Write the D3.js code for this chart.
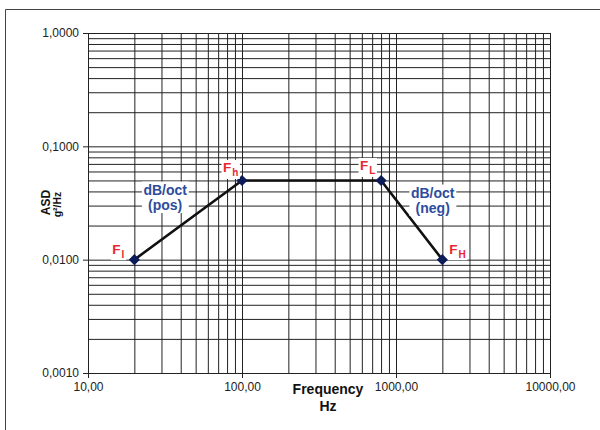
<!DOCTYPE html>
<html><head><meta charset="utf-8">
<script src="https://cdn.jsdelivr.net/npm/d3@7"></script>
<style>body{margin:0;background:#fff}svg{display:block;font-family:"Liberation Sans",Arial,sans-serif}</style>
</head><body><svg id="c" width="600" height="430"></svg>
<script>
const freq = [20, 100, 800, 2000];
const asd = [0.01, 0.05, 0.05, 0.01];
const pointMain = ["F", "F", "F", "F"];
const pointSub = ["l", "h", "L", "H"];
const slopeTop = ["dB/oct", "dB/oct"];
const slopeBottom = ["(pos)", "(neg)"];
const xTickValues = [10, 100, 1000, 10000];
const xTickLabels = ["10,00", "100,00", "1000,00", "10000,00"];
const yTickValues = [0.001, 0.01, 0.1, 1];
const yTickLabels = ["0,0010", "0,0100", "0,1000", "1,0000"];
const xTitle = ["Frequency", "Hz"];
const yTitle = ["ASD", "g²/Hz"];

const svg = d3.select("#c");
const L = 88, R = 550, T = 33, B = 373;
const x = d3.scaleLog().domain([10, 10000]).range([L, R]);
const y = d3.scaleLog().domain([0.001, 1]).range([B, T]);

// outer frame (top + left edges)
svg.append("path").attr("d", "M5.5,430V9.5H600").attr("fill", "none").attr("stroke", "#444").attr("stroke-width", 1);

// grid
const gx = svg.append("g").attr("transform", `translate(0,${B})`)
  .call(d3.axisBottom(x).tickValues(x.ticks()).tickSize(-(B - T)).tickFormat(""));
const gy = svg.append("g").attr("transform", `translate(${L},0)`)
  .call(d3.axisLeft(y).tickValues(y.ticks()).tickSize(-(R - L)).tickFormat(""));
[gx, gy].forEach(g => { g.select(".domain").remove(); g.selectAll("line").attr("stroke", "#222").attr("stroke-width", 1); });

// labelled axes
const ax = svg.append("g").attr("transform", `translate(0,${B})`)
  .call(d3.axisBottom(x).tickValues(xTickValues).tickSize(5).tickPadding(4).tickFormat((d, i) => xTickLabels[i]));
const ay = svg.append("g").attr("transform", `translate(${L},0)`)
  .call(d3.axisLeft(y).tickValues(yTickValues).tickSize(5).tickPadding(4).tickFormat((d, i) => yTickLabels[i]));
[ax, ay].forEach(g => {
  g.select(".domain").remove();
  g.selectAll("line").attr("stroke", "#222");
  g.selectAll("text").attr("font-size", 12).attr("fill", "#222").attr("font-family", "Liberation Sans, Arial, sans-serif");
});

// axis titles
svg.append("text").attr("x", 328).attr("y", 394).attr("text-anchor", "middle").attr("font-weight", "bold")
  .attr("font-size", 14).attr("fill", "#111").text(xTitle[0]);
svg.append("text").attr("x", 328).attr("y", 410.5).attr("text-anchor", "middle").attr("font-weight", "bold")
  .attr("font-size", 14).attr("fill", "#111").text(xTitle[1]);
svg.append("text").attr("transform", "translate(50,202.5) rotate(-90)").attr("text-anchor", "middle")
  .attr("font-weight", "bold").attr("font-size", 12).attr("fill", "#111").text(yTitle[0]);
svg.append("text").attr("transform", "translate(61,204.5) rotate(-90)").attr("text-anchor", "middle")
  .attr("font-weight", "bold").attr("font-size", 10.5).attr("fill", "#111").text(yTitle[1]);

// profile line
const pts = freq.map((f, i) => [x(f), y(asd[i])]);
svg.append("path").attr("d", d3.line()(pts)).attr("fill", "none").attr("stroke", "#111").attr("stroke-width", 2.6);

// markers
svg.selectAll(".mk").data(pts).join("path").attr("class", "mk")
  .attr("d", d3.symbol(d3.symbolSquare, 62)())
  .attr("transform", d => `translate(${d[0]},${d[1]}) rotate(45)`)
  .attr("fill", "#0c1c58");

function whiteBg(g, pad) {
  const b = g.node().getBBox();
  g.insert("rect", ":first-child")
    .attr("x", b.x - pad).attr("y", b.y - pad + 1).attr("width", b.width + 2 * pad).attr("height", b.height + 2 * pad - 2)
    .attr("fill", "#fff");
}

// point labels
const labOff = [[-22, -6], [-19, -8], [-21, -10], [7, -6]];
pts.forEach((p, i) => {
  const g = svg.append("g");
  const t = g.append("text").attr("x", p[0] + labOff[i][0]).attr("y", p[1] + labOff[i][1])
    .attr("font-weight", "bold").attr("font-size", 13.5).attr("fill", "#e8262e");
  t.append("tspan").text(pointMain[i]);
  t.append("tspan").attr("dx", 1).attr("dy", 4).attr("font-size", 10).text(pointSub[i]);
  whiteBg(g, 1.5);
});

// slope labels
const segOff = [[-23, -25], [21, -22]];
[[0, 1], [2, 3]].forEach((s, k) => {
  const mx = x(Math.sqrt(freq[s[0]] * freq[s[1]]));
  const my = y(Math.sqrt(asd[s[0]] * asd[s[1]]));
  const g = svg.append("g");
  [slopeTop[k], slopeBottom[k]].forEach((txt, j) => {
    g.append("text").attr("x", mx + segOff[k][0]).attr("y", my + segOff[k][1] + j * 14.5)
      .attr("text-anchor", "middle").attr("font-weight", "bold").attr("font-size", 14).attr("fill", "#2e4c9c").text(txt);
  });
  whiteBg(g, 1.5);
});
</script></body></html>
